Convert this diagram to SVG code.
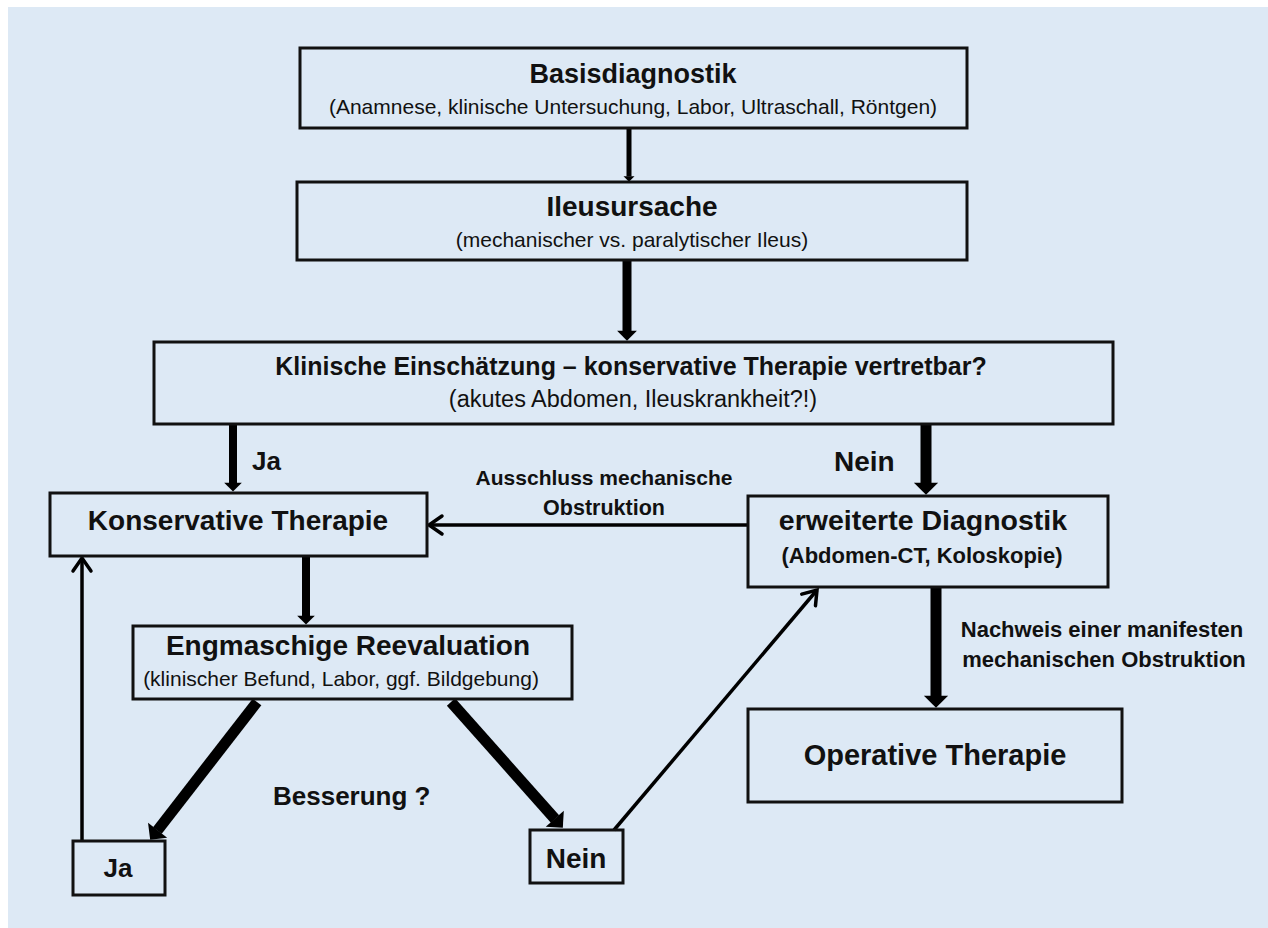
<svg xmlns="http://www.w3.org/2000/svg" width="1268" height="928" viewBox="0 0 1268 928">
<style>
  .box { fill: none; stroke: #111; stroke-width: 3; }
  text { font-family: "Liberation Sans", Arial, sans-serif; fill: #111; }
  .b { font-weight: bold; }
  .c { text-anchor: middle; }
  .thick { stroke: #000; fill: none; stroke-linecap: butt; marker-end: url(#head); }
  .thin { stroke: #000; fill: none; stroke-width: 3.5; marker-end: url(#vhead); }
</style>
<defs>
  <marker id="head" viewBox="0 0 11 22" refX="0.3" refY="11" markerWidth="1.1" markerHeight="2.2" markerUnits="strokeWidth" orient="auto" preserveAspectRatio="none" overflow="visible">
    <path d="M0,0 L11,11 L0,22 Z" fill="#000"/>
  </marker>
  <marker id="vhead" viewBox="0 0 16 20" refX="14" refY="10" markerWidth="16" markerHeight="20" markerUnits="userSpaceOnUse" orient="auto" overflow="visible">
    <path d="M1,1 L14,10 L1,19" fill="none" stroke="#000" stroke-width="3.5" stroke-linecap="round" stroke-linejoin="miter"/>
  </marker>
</defs>
<rect x="0" y="0" width="1268" height="928" fill="#ffffff"/>
<rect x="8" y="7" width="1260" height="921" fill="#dde9f5"/>

<g id="connectors">
  <line class="thick" x1="629" y1="128" x2="629" y2="176.5" stroke-width="5"/>
  <line class="thick" x1="627" y1="260" x2="627" y2="331" stroke-width="9"/>
  <line class="thick" x1="233" y1="424" x2="233" y2="483" stroke-width="8"/>
  <line class="thick" x1="926" y1="424" x2="926" y2="483" stroke-width="11"/>
  <line class="thin" x1="748" y1="525" x2="429" y2="525"/>
  <line class="thick" x1="306" y1="556" x2="306" y2="616" stroke-width="8"/>
  <line class="thick" x1="257" y1="702" x2="157.4" y2="830.5" stroke-width="11"/>
  <line class="thick" x1="451" y1="702" x2="555" y2="819" stroke-width="11"/>
  <line class="thin" x1="82" y1="841" x2="82" y2="558"/>
  <line class="thin" x1="614" y1="830" x2="817" y2="590"/>
  <line class="thick" x1="936" y1="587" x2="936" y2="696" stroke-width="11"/>
  <text class="b" x="252" y="470" font-size="26">Ja</text>
  <text class="b" x="834" y="471" font-size="28">Nein</text>
  <text class="b c" x="604" y="485" font-size="21">Ausschluss mechanische</text>
  <text class="b c" x="604" y="515" font-size="21.5">Obstruktion</text>
  <text class="b c" x="1102" y="637" font-size="22">Nachweis einer manifesten</text>
  <text class="b c" x="1104" y="667" font-size="22">mechanischen Obstruktion</text>
  <text class="b" x="273" y="805" font-size="26">Besserung ?</text>
</g>

<g id="basisdiagnostik">
  <rect class="box" x="300" y="48" width="667" height="80"/>
  <text class="b c" x="633" y="83" font-size="27">Basisdiagnostik</text>
  <text class="c" x="633" y="114" font-size="21">(Anamnese, klinische Untersuchung, Labor, Ultraschall, Röntgen)</text>
</g>

<g id="ileusursache">
  <rect class="box" x="297" y="182" width="670" height="78"/>
  <text class="b c" x="632" y="216" font-size="28">Ileusursache</text>
  <text class="c" x="632" y="247" font-size="21">(mechanischer vs. paralytischer Ileus)</text>
</g>

<g id="klinische">
  <rect class="box" x="154" y="342" width="959" height="82"/>
  <text class="b c" x="631" y="375" font-size="25">Klinische Einschätzung – konservative Therapie vertretbar?</text>
  <text class="c" x="633" y="407" font-size="23.5">(akutes Abdomen, Ileuskrankheit?!)</text>
</g>

<g id="konservative">
  <rect class="box" x="50" y="493" width="377" height="63"/>
  <text class="b c" x="238" y="530" font-size="28">Konservative Therapie</text>
</g>

<g id="erweiterte">
  <rect class="box" x="748" y="496" width="360" height="91"/>
  <text class="b c" x="923" y="530" font-size="28.5">erweiterte Diagnostik</text>
  <text class="b c" x="922" y="563" font-size="22">(Abdomen-CT, Koloskopie)</text>
</g>

<g id="engmaschige">
  <rect class="box" x="133" y="626" width="439" height="73"/>
  <text class="b c" x="348" y="655" font-size="28">Engmaschige Reevaluation</text>
  <text class="c" x="341" y="686" font-size="21">(klinischer Befund, Labor, ggf. Bildgebung)</text>
</g>

<g id="ja">
  <rect class="box" x="73" y="841" width="92" height="54"/>
  <text class="b c" x="118" y="877" font-size="26">Ja</text>
</g>

<g id="nein">
  <rect class="box" x="530" y="830" width="93" height="53"/>
  <text class="b c" x="576" y="868" font-size="28">Nein</text>
</g>

<g id="operative">
  <rect class="box" x="748" y="709" width="374" height="93"/>
  <text class="b c" x="935" y="765" font-size="29">Operative Therapie</text>
</g>
</svg>
